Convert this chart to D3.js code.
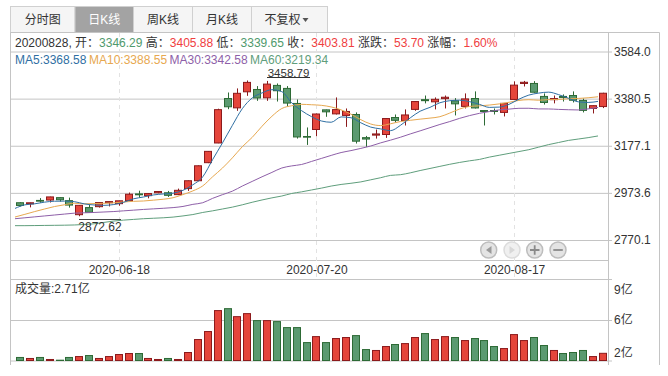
<!DOCTYPE html>
<html>
<head>
  <meta charset="utf-8">
  <script src="https://d3js.org/d3.v7.min.js"></script>
  <style>
    html, body { margin: 0; padding: 0; background: #fff; }
    svg { display: block; }
    text { font-family: "Liberation Sans", "Noto Sans CJK SC", sans-serif; font-size: 12px; fill: #333; }
    .domain { display: none; }
  </style>
</head>
<body>
  <svg width="668" height="376"></svg>

  <script>
    // data
    const dates = ["06-04","06-05","06-08","06-09","06-10","06-11","06-12","06-15","06-16","06-17",
      "06-18","06-19","06-22","06-23","06-24","06-29","06-30","07-01","07-02","07-03",
      "07-06","07-07","07-08","07-09","07-10","07-13","07-14","07-15","07-16","07-17",
      "07-20","07-21","07-22","07-23","07-24","07-27","07-28","07-29","07-30","07-31",
      "08-03","08-04","08-05","08-06","08-07","08-10","08-11","08-12","08-13","08-14",
      "08-17","08-18","08-19","08-20","08-21","08-24","08-25","08-26","08-27","08-28"].map(d => "2020-" + d);

    const open = [2931,2926,2941,2942.6,2953,2940,2879.4,2910,2914,2931,
      2927,2940,2969,2961.6,2974,2974,2966,2992,3026,3104,
      3189,3381,3340.7,3410,3420,3384,3437.6,3424.6,3359.7,3217,
      3247.2,3332,3314.7,3308,3312,3212,3223,3225.6,3299,3286,
      3334,3376,3366.7,3380.5,3371,3347,3381,3329,3329,3321,
      3377,3446,3446,3390,3376,3390,3394,3372.7,3338,3346.29];
    const high = [2933,2931,2951,2957,2954,2953,2921,2923,2933,2936,
      2940,2975,2983,2972,2981,2982,2992,3027,3092,3154,
      3337,3407,3424.6,3458.79,3434.6,3457,3446,3434.6,3377,3256,
      3316,3333,3385.7,3338,3321,3219.5,3247,3296,3312,3334,
      3369,3394,3385.7,3394,3382.7,3403,3411.7,3330,3338,3361,
      3455,3457,3456,3403,3394,3398.7,3411.7,3381,3351,3405.88];
    const low = [2915,2911,2931,2932,2936,2910,2872.62,2888,2910,2915,
      2918,2939,2953,2950,2972,2956,2964,2982,3024,3102,
      3188,3335,3327.7,3392.6,3371,3371,3368,3348,3208,3180.6,
      3218,3302,3312,3258.5,3186.6,3172,3208,3211,3277.5,3264.5,
      3328,3360,3334,3338,3308,3338,3338,3264.5,3312,3303.5,
      3375,3433,3406,3355,3360,3368,3364,3321,3316.5,3339.65];
    const close = [2919.25,2930.8,2937.77,2956.11,2943.75,2920.9,2919.74,2890.03,2931.75,2935.87,
      2939.32,2967.63,2965.27,2970.62,2979.55,2963,2984.67,3025.98,3090.57,3152.81,
      3332.88,3345.34,3403.44,3450.59,3383.32,3443.29,3414.62,3361.3,3215,3214.13,
      3314.15,3323.5,3333.16,3325.11,3196.77,3206,3227.96,3294.55,3286.82,3310.01,
      3367.97,3371.69,3377.56,3386.46,3358,3379.25,3340.29,3325,3325,3360.1,
      3438.8,3451.09,3408.13,3363.9,3380.68,3385.64,3373.58,3329.74,3350.11,3403.81];

    const ma5 = [2906.4,2921.9,2926.4,2933.5,2937.5,2937.9,2935.7,2926.1,2921.3,2919.7,
      2923.3,2932.9,2948,2955.7,2964.5,2968.9,2972.3,2984.5,3008.5,3042.9,
      3117.4,3189.5,3265,3337,3383.1,3405.2,3419.1,3410.6,3362.5,3328.7,
      3302.9,3284.1,3278.5,3301.5,3298,3276.2,3257.6,3249.9,3242.3,3264.9,
      3297.5,3326.2,3342.8,3362.7,3371.5,3373.8,3367.5,3355.9,3342.7,3343.9,
      3355.8,3378,3395.8,3404.4,3408.5,3397.9,3382.4,3366.7,3364,3368.58];
    const ma10 = [2869.4,2881,2892.9,2904,2914.6,2922.2,2928.8,2926.3,2927.4,2928.6,
      2930.6,2934.3,2937.1,2938.5,2942.1,2946.1,2952.6,2966.3,2982.1,3003.7,
      3043.2,3080.9,3124.8,3172.8,3213,3261.3,3304.3,3337.8,3349.8,3355.9,
      3354.1,3351.6,3344.6,3332,3313.4,3289.6,3270.9,3264.2,3271.9,3281.5,
      3286.9,3291.9,3296.4,3302.5,3318.2,3335.7,3346.9,3349.4,3352.7,3357.7,
      3364.8,3372.8,3375.9,3373.6,3376.2,3376.9,3380.2,3381.3,3384.2,3388.55];
    const ma30 = [2862,2866,2870,2874,2878,2882,2886,2887.5,2889,2891,
      2893,2896,2899,2902,2904.5,2907,2910,2915,2924,2931,
      2950,2966,2981,3003,3023,3043,3062,3081,3090,3096.1,
      3109.2,3122.2,3135.4,3147.7,3156.1,3165.6,3175.9,3189.4,3201.2,3213.7,
      3228,3241.4,3255.2,3269,3281.5,3295.4,3307.3,3317.1,3324.7,3331.7,
      3335.2,3338.7,3338.9,3336,3335.9,3334,3332.6,3331.6,3336.2,3342.58];
    const ma60 = [2832,2832,2832.5,2833,2833.5,2834,2835,2837,2840,2846,
      2852,2856,2859,2862,2864,2866,2869,2874,2880,2889,
      2896,2904,2912,2922,2933,2943,2952,2960,2971,2978,
      2986,2994,3003,3010,3015,3021,3030,3039,3049,3052,
      3060,3070,3079,3088,3097,3105,3112,3118,3128,3136,
      3144,3152,3160,3171,3182,3191,3200,3206,3212,3219.34];

    // 亿
    const volume = [2.30,2.20,2.30,2.10,2.03,2.30,2.39,2.49,2.20,2.39,
      2.59,2.69,2.69,2.20,2.10,2.20,2.10,2.79,4.07,4.86,
      6.93,7.12,6.33,6.63,5.94,5.94,5.84,5.25,5.25,3.77,
      4.36,3.77,4.17,4.27,4.46,3.08,2.99,3.38,3.58,3.67,
      4.27,4.66,4.07,4.36,4.27,3.97,4.17,3.97,3.38,3.18,
      4.56,3.97,4.27,3.48,2.99,2.69,2.79,2.99,2.39,2.71];

    const priceTicks = [3584.0, 3380.5, 3177.1, 2973.6, 2770.1];
    const volumeTicks = [9, 6, 2];
    const dateTicks = ["2020-06-18", "2020-07-20", "2020-08-17"];
    const tabs = ["分时图", "日K线", "周K线", "月K线", "不复权"];
    const tabEdges = [10.5, 75, 133.5, 192.5, 251.5, 327.5];

    const RED = "#e5453b", RED_DARK = "#8c1a1c", GREEN = "#5b9a70", GREEN_DARK = "#2d6a35", GRID = "#c4c4c4";

    const svg = d3.select("svg");

    const x = d3.scalePoint().domain(dates).range([20, 603]);
    const y = d3.scaleLinear().domain([2770.1, 3584.0]).range([240, 51.5]);
    const yVol = d3.scaleLinear().domain([2, 10]).range([360.5, 279.5]);

    // tabs
    const tab = svg.append("g").selectAll("g").data(tabs).enter().append("g");
    tab.append("rect")
      .attr("x", (d, i) => tabEdges[i])
      .attr("y", 6.5)
      .attr("width", (d, i) => tabEdges[i + 1] - tabEdges[i])
      .attr("height", 26)
      .attr("fill", (d, i) => i === 1 ? "#a3a3a3" : "#f5f5f5")
      .attr("stroke", "#d0d0d0");
    tab.append("text")
      .attr("x", (d, i) => i === 4 ? 282.5 : (tabEdges[i] + tabEdges[i + 1]) / 2)
      .attr("y", 24)
      .attr("text-anchor", "middle")
      .style("font-size", "12px")
      .style("fill", (d, i) => i === 1 ? "#fff" : "#333")
      .text(d => d);
    svg.append("path").attr("d", "M302.5 18h6l-3 4z").attr("fill", "#555");

    // frame
    const frame = svg.append("g").attr("stroke", GRID).attr("fill", "none");
    frame.append("path").attr("d", "M10.5 365V32.5H659.5V365");
    frame.append("path").attr("d", "M608.5 32.5V365");
    frame.append("path").attr("d", "M10.5 260.5H609");

    // price grid + labels
    svg.append("g")
      .attr("transform", "translate(612,0)")
      .call(d3.axisRight(y).tickValues(priceTicks).tickSize(-602).tickPadding(2).tickFormat(d3.format(".1f")))
      .call(g => g.selectAll("line").attr("stroke", GRID))
      .call(g => g.selectAll("text").style("font-size", "12px").style("fill", "#333").style("font-family", null));

    // volume grid + labels
    svg.append("g")
      .attr("transform", "translate(612,0)")
      .call(d3.axisRight(yVol).tickValues(volumeTicks).tickSize(-602).tickPadding(2).tickFormat(d => d + "亿"))
      .call(g => g.selectAll("line").attr("stroke", d => d === 9 ? "none" : GRID))
      .call(g => g.selectAll("text").style("font-size", "12px").style("fill", "#333").style("font-family", null)
        .attr("y", d => d === 2 ? -8 : 0));
    svg.append("path").attr("d", "M10.5 279.5H612").attr("stroke", GRID);

    // date labels + dashed verticals
    svg.append("g")
      .attr("transform", "translate(0,261)")
      .call(d3.axisBottom(x).tickValues(dateTicks).tickSize(0).tickPadding(4))
      .call(g => g.selectAll("text").style("font-size", "12px").style("fill", "#333").style("font-family", null));
    svg.append("g").selectAll("line").data(dateTicks).enter().append("line")
      .attr("x1", d => Math.round(x(d)) + 0.5)
      .attr("x2", d => Math.round(x(d)) + 0.5)
      .attr("y1", 33)
      .attr("y2", 279)
      .attr("stroke", "#e2e2e2")
      .attr("stroke-dasharray", "4,4");

    // candles
    const isUp = i => close[i] >= open[i];
    const candle = svg.append("g").selectAll("g").data(dates).enter().append("g");
    candle.append("line")
      .attr("x1", d => Math.round(x(d)) + 0.5)
      .attr("x2", d => Math.round(x(d)) + 0.5)
      .attr("y1", (d, i) => y(high[i]))
      .attr("y2", (d, i) => y(low[i]))
      .attr("stroke", (d, i) => isUp(i) ? RED_DARK : GREEN_DARK);
    candle.append("rect")
      .attr("x", d => Math.round(x(d)) - 3.5)
      .attr("y", (d, i) => y(Math.max(open[i], close[i])))
      .attr("width", 7)
      .attr("height", (d, i) => Math.abs(y(open[i]) - y(close[i])))
      .attr("fill", (d, i) => isUp(i) ? RED : GREEN)
      .attr("stroke", (d, i) => isUp(i) ? RED_DARK : GREEN_DARK);

    // volume bars
    svg.append("g").selectAll("rect").data(dates).enter().append("rect")
      .attr("x", d => Math.round(x(d)) - 3.5)
      .attr("y", (d, i) => yVol(volume[i]))
      .attr("width", 7)
      .attr("height", (d, i) => yVol(2) - yVol(volume[i]))
      .attr("fill", (d, i) => isUp(i) ? RED : GREEN)
      .attr("stroke", (d, i) => isUp(i) ? RED_DARK : GREEN_DARK);

    // moving averages sit 5px left of the candle centres in the original
    const line = d3.line()
      .x((d, i) => x(dates[i]) - 5)
      .y(d => y(d))
      .curve(d3.curveMonotoneX);
    const maSeries = [
      { name: "MA5", values: ma5, color: "#2f6fa3", lx: 15 },
      { name: "MA10", values: ma10, color: "#e7a850", lx: 89 },
      { name: "MA30", values: ma30, color: "#8e5fa8", lx: 169.5 },
      { name: "MA60", values: ma60, color: "#5f9e7c", lx: 250 }
    ];
    svg.append("g").selectAll("path").data(maSeries.slice().reverse()).enter().append("path")
      .attr("d", d => line(d.values))
      .attr("fill", "none")
      .attr("stroke", d => d.color)
      .attr("stroke-width", 1);

    // MA legend
    svg.append("g").selectAll("text").data(maSeries).enter().append("text")
      .attr("x", d => d.lx)
      .attr("y", 63.5)
      .style("fill", d => d.color)
      .text(d => d.name + ":" + d3.format(".2f")(d.values[d.values.length - 1]));

    // header row for the last day
    const last = dates.length - 1;
    const pctUp = "#f0403f", pctDown = "#4f9a6d";
    const info = [
      ["20200828, 开：", "#333"],
      [d3.format(".2f")(open[last]), pctDown],
      [" 高：", "#333"],
      [d3.format(".2f")(high[last]), pctUp],
      [" 低：", "#333"],
      [d3.format(".2f")(low[last]), pctDown],
      [" 收：", "#333"],
      [d3.format(".2f")(close[last]), pctUp],
      [" 涨跌：", "#333"],
      ["53.70", pctUp],
      [" 涨幅：", "#333"],
      ["1.60%", pctUp]
    ];
    svg.append("text").attr("x", 15).attr("y", 47).style("white-space", "pre")
      .selectAll("tspan").data(info).enter().append("tspan")
      .style("fill", d => d[1])
      .text(d => d[0]);

    // max / min labels
    const maxLabel = d3.max(high), minLabel = d3.min(low);
    svg.append("text").attr("x", 288.5).attr("y", 76.5).attr("text-anchor", "middle")
      .style("font-size", "11.5px").text(d3.format(".2f")(maxLabel));
    svg.append("path").attr("d", "M267 77.5H310").attr("stroke", "#333");
    svg.append("path").attr("d", "M79 219.5H121").attr("stroke", "#444");
    svg.append("text").attr("x", 100).attr("y", 231).attr("text-anchor", "middle").text(d3.format(".2f")(minLabel));

    // volume title
    svg.append("text").attr("x", 15).attr("y", 293).text("成交量:" + volume[last] + "亿");

    // chart navigation buttons
    const navButtons = [
      { cx: 488.7, icon: "M491.5 246v8l-5.5-4z", soft: false },
      { cx: 512, icon: "M509.5 246v8l5.5-4z", soft: true },
      { cx: 534.7, icon: "M530 250h9.5M534.7 245.3v9.4", soft: false },
      { cx: 558, icon: "M553.3 250h9.5", soft: false }
    ];
    const nav = svg.append("g").selectAll("g").data(navButtons).enter().append("g");
    nav.append("circle")
      .attr("cx", d => d.cx)
      .attr("cy", 250)
      .attr("r", 8)
      .attr("fill", d => d.soft ? "#f0f0f0" : "#e4e4e4")
      .attr("stroke", d => d.soft ? "#dcdcdc" : "#bdbdbd")
      .attr("stroke-width", 1.5);
    nav.append("path")
      .attr("d", d => d.icon)
      .attr("fill", (d, i) => i < 2 ? (d.soft ? "#d8d8d8" : "#9a9a9a") : "none")
      .attr("stroke", (d, i) => i < 2 ? "none" : "#8a8a8a")
      .attr("stroke-width", 1.8);
  </script>
</body>
</html>
